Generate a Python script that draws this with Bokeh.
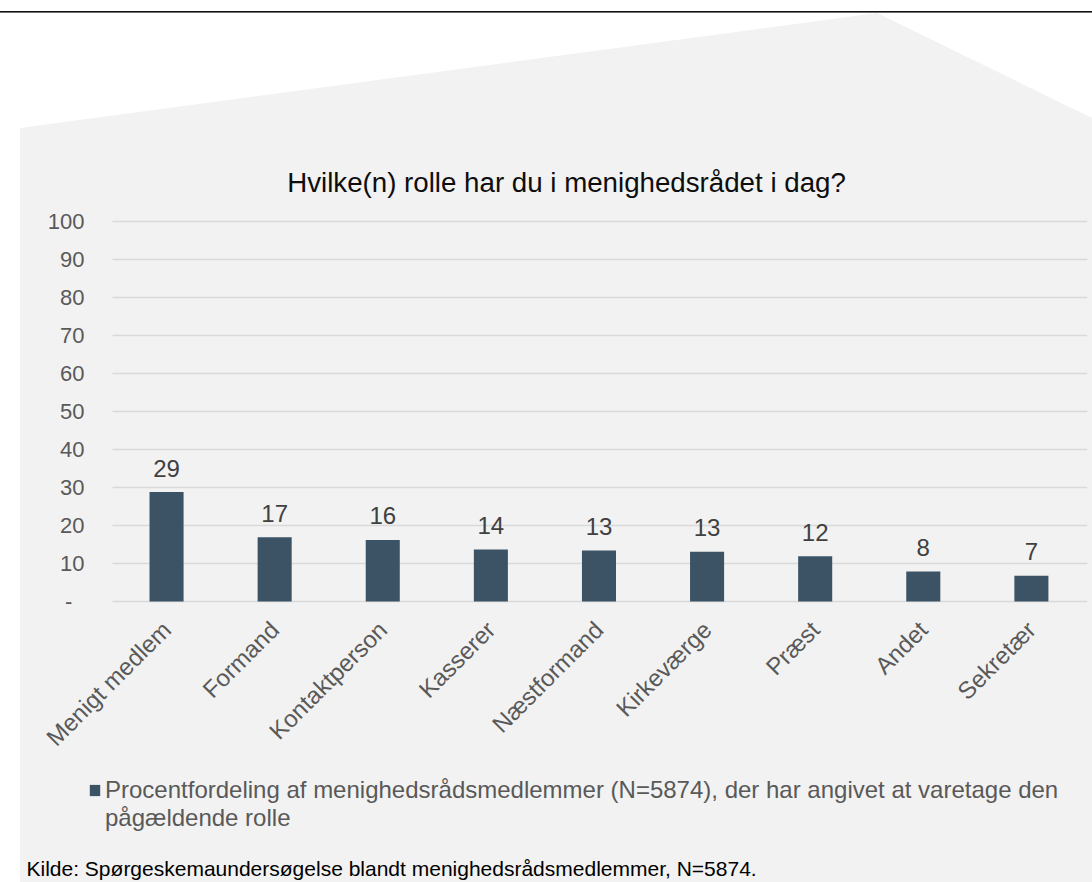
from bokeh.plotting import figure
from bokeh.layouts import column
from bokeh.models import (Range1d, FixedTicker, Legend, LegendItem, BoxAnnotation,
                          ColumnDataSource, Label, Title)
from bokeh.core.properties import value
from bokeh.embed import file_html
from bokeh.resources import INLINE
from urllib.parse import quote
import math

# ---------------- data ----------------
categories = ["Menigt medlem", "Formand", "Kontaktperson", "Kasserer", "Næstformand",
              "Kirkeværge", "Præst", "Andet", "Sekretær"]
values = [28.8, 16.9, 16.2, 13.7, 13.4, 13.1, 11.9, 7.9, 6.8]
y_ticks = [0, 10, 20, 30, 40, 50, 60, 70, 80, 90, 100]
title_text = "Hvilke(n) rolle har du i menighedsrådet i dag?"
legend_lines = ["Procentfordeling af menighedsrådsmedlemmer (N=5874), der har angivet at varetage den",
                "pågældende rolle"]
source_text = "Kilde: Spørgeskemaundersøgelse blandt menighedsrådsmedlemmer, N=5874."

FONT = "Liberation Sans"
BAR_COLOR = "#3B5364"
BG_GREY = "#F2F2F2"
W = 1092
H1, H2 = 776, 106

x_pos = list(range(1, len(categories) + 1))          # category slots 1..9
src = ColumnDataSource(dict(x=x_pos, cat=categories, val=values,
                            lab=[f"{v:.0f}" for v in values]))

X_RANGE = (0.278, 9.519)   # leaves room left of the first slot for the legend key

# ---------------- chart ----------------
p = figure(width=W, height=H1,
           x_range=Range1d(*X_RANGE),
           y_range=Range1d(-0.789, 158.158),
           output_backend="svg", toolbar_location=None,
           min_border_left=88, min_border_right=5, min_border_top=0,
           min_border_bottom=H1 - 604)
p.background_fill_color = None
p.border_fill_color = None
p.outline_line_color = None

bars = p.vbar(x="x", top="val", width=0.315, bottom=0, source=src,
              fill_color=BAR_COLOR, line_color=None)
p.text(x="x", y="val", text="lab", source=src, text_align="center",
       text_baseline="alphabetic", y_offset=-24, text_font=value(FONT),
       text_font_size="24px", text_color="#404040")

p.yaxis.ticker = FixedTicker(ticks=y_ticks)
p.yaxis.major_label_overrides = {0: "-\u00a0\u00a0"}
p.yaxis.axis_line_color = None
p.yaxis.major_tick_line_color = None
p.yaxis.major_tick_out = 0
p.yaxis.minor_tick_line_color = None
p.yaxis.major_label_standoff = 4
p.yaxis.major_label_text_font = FONT
p.yaxis.major_label_text_font_size = "22px"
p.yaxis.major_label_text_color = "#595959"

p.xaxis.ticker = FixedTicker(ticks=x_pos)
p.xaxis.major_label_overrides = {x: c for x, c in zip(x_pos, categories)}
p.xaxis.axis_line_color = None
p.xaxis.major_tick_line_color = None
p.xaxis.minor_tick_line_color = None
p.xaxis.major_label_orientation = math.pi / 4
p.xaxis.major_label_standoff = 15
p.xaxis.major_label_text_font = FONT
p.xaxis.major_label_text_font_size = "24px"
p.xaxis.major_label_text_color = "#595959"

p.xgrid.visible = False
p.ygrid.ticker = FixedTicker(ticks=y_ticks)
p.ygrid.grid_line_color = "#D9D9D9"
p.ygrid.grid_line_width = 1.5

# gridlines start at the first category slot: mask the margin strip in background grey
p.add_layout(BoxAnnotation(right=0.5, bottom=-0.8, top=101, fill_color=BG_GREY,
                           fill_alpha=1.0, line_color=None, level="underlay"))

p.add_layout(Label(x=566, y=182, x_units="canvas", y_units="canvas", text=title_text,
                   text_align="center", text_baseline="alphabetic", text_font=FONT,
                   text_font_size="27.7px", text_color="#0D0D0D"))

# ---------------- legend + source strip ----------------
p2 = figure(width=W, height=H2,
            x_range=Range1d(*X_RANGE), y_range=Range1d(0, 1),
            output_backend="svg", toolbar_location=None,
            x_axis_location=None, y_axis_location=None,
            min_border_left=88, min_border_right=5, min_border_top=0, min_border_bottom=0)
p2.background_fill_color = None
p2.border_fill_color = None
p2.outline_line_color = None
p2.xgrid.visible = False
p2.ygrid.visible = False

# same series, only used as the legend key in this strip
key = p2.vbar(x="x", top="val", width=0.315, bottom=0, source=src,
              fill_color=BAR_COLOR, line_color=None, visible=False)
legend = Legend(items=[LegendItem(label=legend_lines[0], renderers=[key]),
                       LegendItem(label=legend_lines[1], renderers=[])],
                location="top_left", glyph_width=13, glyph_height=14, label_standoff=4,
                padding=0, margin=0, spacing=0, border_line_color=None,
                background_fill_alpha=0, inactive_fill_alpha=0,
                label_text_font=FONT, label_text_font_size="24px",
                label_text_color="#595959", label_height=20)
p2.add_layout(legend)

p2.add_layout(Title(text=source_text, align="left", offset=-62, standoff=6,
                    text_font=FONT, text_font_size="21px", text_font_style="normal",
                    text_color="#000000"), "below")

# decorative page background (grey slanted panel + top rule)
bg_svg = ("<svg xmlns='http://www.w3.org/2000/svg' width='1092' height='882'>"
          "<polygon points='20,128 877,13 1092,118 1092,882 20,882' fill='" + BG_GREY + "'/>"
          "<rect x='0' y='11' width='1092' height='1.6' fill='#111111'/></svg>")
layout = column(p, p2, spacing=0,
                styles={"background-image": 'url("data:image/svg+xml;charset=utf-8,' + quote(bg_svg) + '")',
                        "background-repeat": "no-repeat",
                        "background-color": "white"})

open("out.html", "w").write(file_html(layout, INLINE))
